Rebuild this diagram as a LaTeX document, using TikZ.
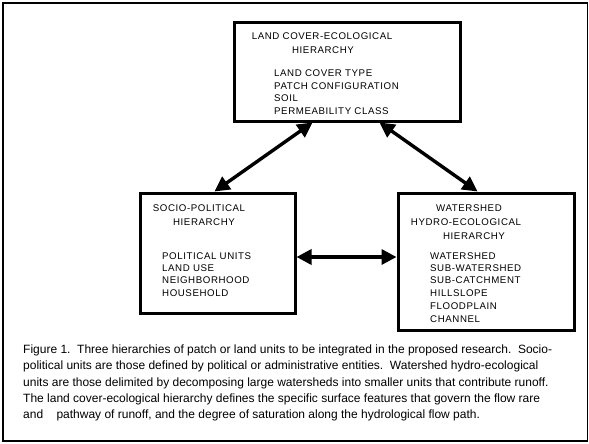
\documentclass[tikz,border=0pt]{standalone}
\usepackage{fontspec}
\setmainfont{Liberation Sans}
\newfontfamily\boxfont[LetterSpace=6]{Liberation Sans}
\usetikzlibrary{arrows.meta,calc}
\begin{document}
\begin{tikzpicture}[x=1pt,y=-1pt,
  hbox/.style={draw, line width=3pt, inner sep=0pt},
  btxt/.style={inner sep=0pt, font=\boxfont\fontsize{9.7}{11}\selectfont},
  ctxt/.style={inner sep=0pt, anchor=base west, font=\fontsize{12}{13}\selectfont},
  arr/.style={line width=3.4pt, {Triangle[length=15pt,width=15pt]}-{Triangle[length=15pt,width=15pt]}}]
\useasboundingbox (0,0) rectangle (589,444);
\fill[white] (0,0) rectangle (589,444);
\draw[line width=1.5pt] (3,3) rectangle (587.5,441);
% boxes
\node[hbox, minimum width=226pt, minimum height=98pt] (top) at (347,72) {};
\node[hbox, minimum width=155pt, minimum height=120pt] (socio) at (217.5,253) {};
\node[hbox, minimum width=176pt, minimum height=137pt] (water) at (486,261.5) {};
% top box text
\node[btxt, anchor=base] (t1) at (322,39.6) {LAND COVER-ECOLOGICAL};
\node[btxt, anchor=base] (t2) at (323,53.6) {HIERARCHY};
\node[btxt, anchor=base west] (t3) at (274,76.5) {LAND COVER TYPE};
\node[btxt, anchor=base west] (t4) at (274,89.2) {PATCH CONFIGURATION};
\node[btxt, anchor=base west] (t5) at (274,101.9) {SOIL};
\node[btxt, anchor=base west] (t6) at (274,114.6) {PERMEABILITY CLASS};
% socio text
\node[btxt, anchor=base] (s1) at (199,211.6) {SOCIO-POLITICAL};
\node[btxt, anchor=base] (s2) at (204,225.6) {HIERARCHY};
\node[btxt, anchor=base west] (s3) at (162,259) {POLITICAL UNITS};
\node[btxt, anchor=base west] (s4) at (162,271.3) {LAND USE};
\node[btxt, anchor=base west] (s5) at (162,283.6) {NEIGHBORHOOD};
\node[btxt, anchor=base west] (s6) at (162,296) {HOUSEHOLD};
% watershed text
\node[btxt, anchor=base] (w1) at (469,211.6) {WATERSHED};
\node[btxt, anchor=base] (w2) at (466,225.6) {HYDRO-ECOLOGICAL};
\node[btxt, anchor=base] (w3) at (474,239.6) {HIERARCHY};
\node[btxt, anchor=base west] (w4) at (430,259) {WATERSHED};
\node[btxt, anchor=base west] (w5) at (430,271.6) {SUB-WATERSHED};
\node[btxt, anchor=base west] (w6) at (430,283.6) {SUB-CATCHMENT};
\node[btxt, anchor=base west] (w7) at (430,296.3) {HILLSLOPE};
\node[btxt, anchor=base west] (w8) at (430,309) {FLOODPLAIN};
\node[btxt, anchor=base west] (w9) at (430,322) {CHANNEL};
% arrows
\draw[arr] ($(socio.north west)+(76,0)$) -- ($(top.south west)+(80,0)$);
\draw[arr] ($(top.south west)+(147,0)$) -- ($(water.north west)+(81,0)$);
\draw[arr] ($(socio.east)+(0,4)$) -- ($(water.west)+(0,-4.5)$);
% caption
\node[ctxt] (c1) at (23,353.5) {Figure 1.\ \ Three hierarchies of patch or land units to be integrated in the proposed research.\ \ Socio-};
\node[ctxt] (c2) at (23,369.5) {political units are those defined by political or administrative entities.\ \ Watershed hydro-ecological};
\node[ctxt] (c3) at (23,386) {units are those delimited by decomposing large watersheds into smaller units that contribute runoff.};
\node[ctxt] (c4) at (23,402) {The land cover-ecological hierarchy defines the specific surface features that govern the flow rare};
\node[ctxt] (c5) at (23,418.5) {and\ \ \ \ pathway of runoff, and the degree of saturation along the hydrological flow path.};
\end{tikzpicture}
\end{document}
